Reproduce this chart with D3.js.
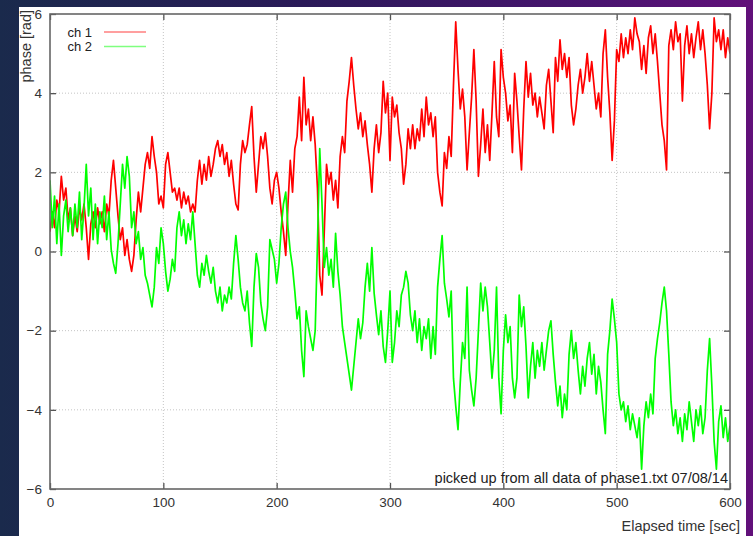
<!DOCTYPE html>
<html>
<head>
<meta charset="utf-8">
<script src="https://cdn.jsdelivr.net/npm/d3@7"></script>
<style>
  html, body { margin: 0; padding: 0; }
  body {
    width: 753px; height: 536px; overflow: hidden;
    background: linear-gradient(90deg, #1a2a4c 0%, #2a1a58 40%, #4a1470 80%, #62107a 100%);
    font-family: "Liberation Sans", Arial, sans-serif;
  }
  #panel { position: absolute; left: 19px; top: 7px; width: 727px; height: 529px; background: #fff; }
  svg { position: absolute; left: 0; top: 0; }
</style>
</head>
<body>
<div id="panel"></div>
<svg id="chart" width="753" height="536"></svg>
<script>
// samples every 2 seconds
const sampleStep = 2;

const ch1 = [
  0.5, 1.0, 0.6, 1.3, 1.0, 1.9, 1.3, 1.6, 0.8, 1.1,
  0.4, 0.9, 0.5, 1.1, 0.8, 1.2, 0.6, -0.2, 0.7, 1.0,
  0.6, 1.1, 0.7, 1.0, 0.5, 1.2, 0.9, 1.8, 2.3, 1.6,
  0.9, 0.3, 0.6, -0.1, 0.3, -0.2, -0.5, -0.1, 0.8, 1.5,
  1.0, 1.6, 2.2, 2.5, 2.1, 2.9, 2.4, 2.0, 1.2, 1.4,
  1.1, 2.2, 2.5, 2.0, 1.5, 1.6, 1.3, 1.6, 1.1, 1.5,
  1.2, 1.4, 1.0, 1.2, 1.0, 1.8, 2.3, 1.7, 2.2, 1.8,
  2.4, 1.9, 2.2, 2.6, 2.8, 2.4, 2.7, 2.2, 2.5, 1.9,
  2.3, 1.7, 1.2, 1.05, 2.2, 2.8, 2.5, 2.7, 3.2, 3.66,
  2.4, 1.5, 2.2, 2.9, 2.6, 3.0, 2.4, 1.6, 1.2, 1.8,
  2.0, 1.6, 1.0, 0.5, -0.1, 1.2, 2.3, 1.5, 2.6, 2.9,
  3.9, 2.8, 4.4, 3.2, 3.6, 2.8, 3.4, 2.7, 1.6, -0.6,
  -1.1, 0.5, 2.2, 1.7, 2.0, 1.3, 1.8, 1.1, 2.4, 2.9,
  2.5, 3.8, 4.3, 4.9, 4.2, 3.6, 3.1, 3.5, 2.9, 3.3,
  2.7, 2.2, 1.5, 2.6, 3.2, 2.5, 3.0, 4.3, 3.5, 4.0,
  2.3, 3.9, 3.4, 3.7, 3.0, 2.6, 1.7, 2.2, 3.1, 2.6,
  3.2, 2.6, 3.1, 2.8, 3.6, 2.9, 3.9, 3.2, 3.5, 2.9,
  3.4, 2.0, 1.5, 1.15, 2.5, 2.1, 2.9, 2.4, 4.2, 5.8,
  4.6, 3.6, 4.1, 3.4, 2.06, 3.0, 3.9, 5.1, 3.8, 1.9,
  2.7, 3.6, 2.5, 3.2, 2.3, 3.5, 4.8, 3.4, 2.9, 5.1,
  4.4, 4.0, 3.3, 3.7, 2.5, 4.5, 3.8, 2.9, 2.06, 3.6,
  4.8, 3.9, 4.5, 3.7, 4.0, 3.4, 3.9, 3.5, 3.1, 4.2,
  4.6, 3.8, 3.0, 4.9, 4.3, 5.35, 4.6, 5.0, 4.4, 4.9,
  3.7, 3.2, 3.6, 4.2, 4.6, 4.0, 4.4, 5.0, 4.3, 4.8,
  4.2, 3.6, 4.0, 3.4, 5.0, 5.6, 4.4, 3.5, 2.3, 3.3,
  5.1, 4.8, 5.5, 4.9, 5.4, 5.0, 5.6, 5.1, 5.9, 5.5,
  5.3, 4.6, 5.2, 4.5, 5.4, 5.7, 5.0, 5.5, 4.8, 4.0,
  3.2, 2.8, 2.06, 5.2, 5.6, 5.1, 5.8, 5.3, 5.5, 3.8,
  5.2, 5.7, 5.0, 5.5, 4.9, 5.4, 5.8, 5.1, 5.6, 5.0,
  4.2, 3.1, 4.0, 5.9, 5.3, 5.6, 5.1, 5.6, 4.9, 5.4,
  5.0
];

const ch2 = [
  1.8, 0.6, 1.4, 0.2, 1.2, -0.1, 0.9, 1.3, 0.5, 1.1,
  0.4, 1.2, 0.6, 1.5, 0.3, 1.1, 2.2, 0.9, 1.6, 0.3,
  1.2, 0.2, 1.0, 0.6, 1.4, 0.3, 1.0, 0.05, -0.3, -0.55,
  0.2, 1.2, 2.2, 1.6, 2.4, 1.9, 0.6, 1.0, 0.2, 0.5,
  -0.2, 0.1, -0.6, -0.8, -1.1, -1.4, -0.9, 0.1, -0.3, 0.6,
  0.2, -0.5, -1.0, -0.7, -0.2, -0.5, 0.6, 1.0, 0.4, 0.8,
  0.2, 0.7, 0.3, 1.0, 0.2, -0.6, -0.9, -0.3, -0.6, -0.1,
  -0.5, -0.8, -0.4, -1.0, -1.3, -0.9, -1.5, -1.1, -1.3, -0.9,
  -1.2, -0.3, 0.4, -0.2, -0.9, -1.3, -1.5, -1.0, -1.8, -2.4,
  -0.9, -0.05, -0.4, -1.3, -1.7, -2.0, -1.4, 0.3, 0.05, -0.2,
  -0.8, -0.3, 0.6, 1.2, 1.5, 0.6, 0.0, -0.4, -1.0, -1.7,
  -1.4, -2.5, -3.16, -1.5, -1.9, -2.2, -2.5, -2.0, 0.2, 2.6,
  1.2, -0.4, 0.1, -0.6, -0.2, -0.9, 0.46, -0.5, -1.1, -1.9,
  -2.3, -2.7, -3.1, -3.5, -2.9, -2.3, -1.7, -2.2, -1.8, -0.9,
  -0.3, -1.0, 0.1, -1.05, -1.6, -2.1, -1.5, -2.4, -2.8, -2.0,
  -1.0, -2.8, -2.3, -1.5, -1.9, -1.1, -0.9, -0.5, -0.8, -1.6,
  -2.0, -1.5, -2.3, -1.7, -2.5, -1.9, -2.2, -1.7, -2.7, -1.9,
  -2.6, -0.9, -0.2, 0.4, -0.8, -1.2, -1.65, -1.0, -3.2, -3.9,
  -4.5, -3.3, -2.3, -2.7, -0.9, -3.0, -3.5, -3.9, -3.2, -2.0,
  -0.8, -1.5, -0.9, -1.4, -2.3, -3.2, -2.5, -0.9, -3.2, -4.1,
  -2.5, -1.6, -2.3, -1.9, -3.2, -3.7, -3.2, -1.1, -1.9, -1.4,
  -2.4, -3.7, -2.9, -2.3, -3.2, -2.5, -2.9, -2.3, -3.0, -2.5,
  -2.0, -1.75, -2.6, -3.3, -3.9, -3.4, -4.2, -3.6, -4.0, -2.6,
  -2.0, -2.7, -2.3, -3.0, -3.6, -2.9, -3.4, -2.7, -2.3, -3.1,
  -2.6, -3.6, -2.9, -3.3, -4.0, -4.6, -2.6, -2.0, -1.2, -1.7,
  -2.3, -3.6, -4.0, -3.8, -4.3, -3.9, -4.5, -4.1, -4.4, -4.7,
  -4.2, -5.5, -4.4, -3.8, -4.2, -3.6, -4.1, -2.7, -2.2, -1.8,
  -1.3, -0.9, -1.5, -2.6, -3.8, -4.4, -4.0, -4.6, -4.2, -4.8,
  -4.1, -4.5, -3.8, -4.3, -4.8, -4.0, -4.4, -3.9, -4.6, -4.2,
  -3.0, -2.2, -3.4, -4.8, -5.5, -4.3, -3.9, -4.7, -4.2, -4.8,
  -4.4
];

const xTicks = [0, 100, 200, 300, 400, 500, 600];
const yTicks = [-6, -4, -2, 0, 2, 4, 6];
const seriesNames = ["ch 1", "ch 2"];
const seriesColors = ["#ff0000", "#00ff00"];

const margin = { left: 50, right: 23, top: 14, bottom: 47 };
const W = 753, H = 536;
const svg = d3.select("#chart");

const x = d3.scaleLinear().domain([0, 600]).range([margin.left, W - margin.right]);
const y = d3.scaleLinear().domain([-6, 6]).range([H - margin.bottom, margin.top]);

const plotW = x.range()[1] - x.range()[0];
const plotH = y.range()[0] - y.range()[1];

svg.append("defs").append("clipPath").attr("id", "clip")
  .append("rect")
  .attr("x", margin.left).attr("y", margin.top)
  .attr("width", plotW).attr("height", plotH);

// dotted grid
svg.append("g")
  .selectAll("line")
  .data(xTicks.slice(1, -1))
  .join("line")
  .attr("x1", d => x(d)).attr("x2", d => x(d))
  .attr("y1", margin.top).attr("y2", H - margin.bottom)
  .attr("stroke", "#c4c4c4").attr("stroke-dasharray", "1,2");

svg.append("g")
  .selectAll("line")
  .data(yTicks.slice(1, -1))
  .join("line")
  .attr("x1", margin.left).attr("x2", W - margin.right)
  .attr("y1", d => y(d)).attr("y2", d => y(d))
  .attr("stroke", "#c4c4c4").attr("stroke-dasharray", "1,2");

// data lines
const line = d3.line()
  .x((d, i) => x(i * sampleStep))
  .y(d => y(d));

const lines = svg.append("g").attr("clip-path", "url(#clip)");
[ch1, ch2].forEach((s, k) => {
  lines.append("path")
    .datum(s)
    .attr("fill", "none")
    .attr("stroke", seriesColors[k])
    .attr("stroke-width", 1.7)
    .attr("stroke-linejoin", "round")
    .attr("d", line);
});

// axes with gnuplot-style inward ticks, mirrored
const tickLen = 6;
const axBottom = svg.append("g")
  .attr("transform", `translate(0,${H - margin.bottom})`)
  .call(d3.axisBottom(x).tickValues(xTicks).tickSizeInner(-tickLen).tickSizeOuter(0).tickPadding(8));
const axTop = svg.append("g")
  .attr("transform", `translate(0,${margin.top})`)
  .call(d3.axisTop(x).tickValues(xTicks).tickSizeInner(-tickLen).tickSizeOuter(0).tickFormat(""));
const axLeft = svg.append("g")
  .attr("transform", `translate(${margin.left},0)`)
  .call(d3.axisLeft(y).tickValues(yTicks).tickSizeInner(-tickLen).tickSizeOuter(0).tickPadding(8));
const axRight = svg.append("g")
  .attr("transform", `translate(${W - margin.right},0)`)
  .call(d3.axisRight(y).tickValues(yTicks).tickSizeInner(-tickLen).tickSizeOuter(0).tickFormat(""));

[axBottom, axTop, axLeft, axRight].forEach(g => {
  g.select(".domain").remove();
  g.selectAll("line").attr("stroke", "#555").attr("stroke-width", 1.3);
  g.selectAll("text")
    .attr("fill", "#333")
    .style("font-family", "'Liberation Sans', Arial, sans-serif")
    .style("font-size", "13.5px");
});

// border
svg.append("rect")
  .attr("x", margin.left).attr("y", margin.top)
  .attr("width", plotW).attr("height", plotH)
  .attr("fill", "none").attr("stroke", "#666").attr("stroke-width", 1.6);

// labels
svg.append("text")
  .attr("transform", "translate(31,10) rotate(-90)")
  .attr("text-anchor", "end")
  .attr("fill", "#333")
  .style("font-size", "14.5px")
  .text("phase [rad]");

svg.append("text")
  .attr("x", 740).attr("y", 531)
  .attr("text-anchor", "end")
  .attr("fill", "#333")
  .style("font-size", "14.5px")
  .text("Elapsed time [sec]");

svg.append("text")
  .attr("x", 728).attr("y", 483)
  .attr("text-anchor", "end")
  .attr("fill", "#222")
  .style("font-size", "14.5px")
  .text("picked up from all data of phase1.txt 07/08/14");

// legend
const legend = svg.append("g").attr("transform", "translate(0,32)");
legend.selectAll("g")
  .data(seriesNames)
  .join("g")
  .attr("transform", (d, i) => `translate(0,${i * 14.5})`)
  .each(function (d, i) {
    const g = d3.select(this);
    g.append("text")
      .attr("x", 92).attr("y", 4.5)
      .attr("text-anchor", "end")
      .attr("fill", "#222")
      .style("font-size", "13px")
      .text(d);
    g.append("line")
      .attr("x1", 104).attr("x2", 146)
      .attr("stroke", seriesColors[i])
      .attr("stroke-opacity", 0.5)
      .attr("stroke-width", 1.5);
  });
</script>
</body>
</html>
